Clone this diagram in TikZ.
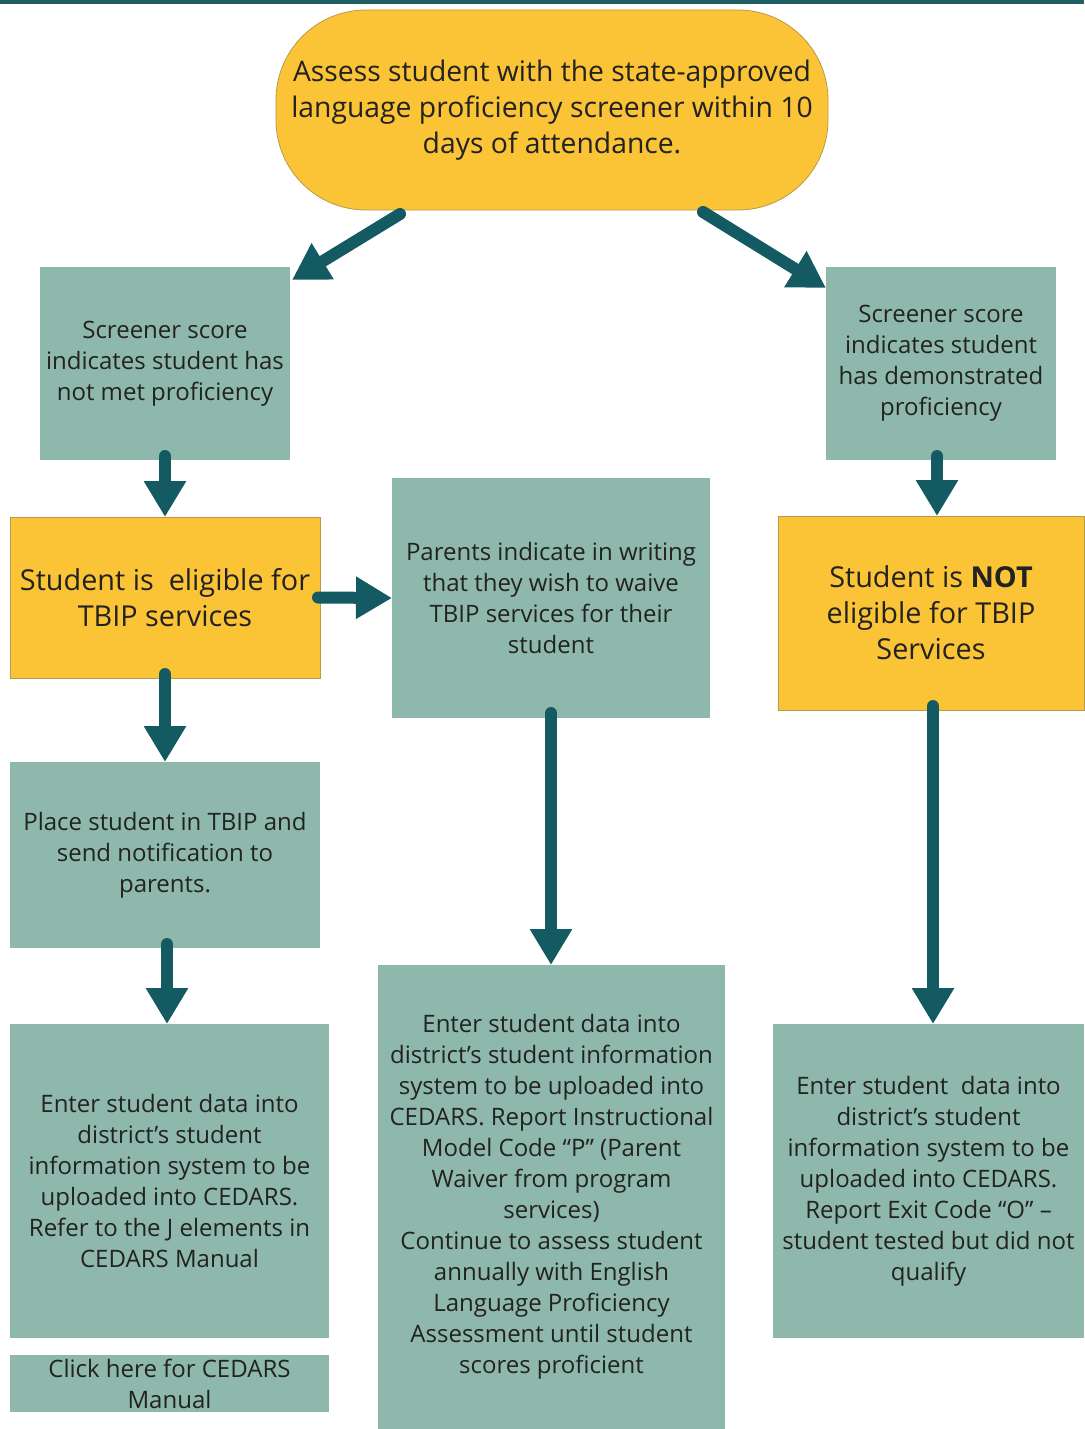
\documentclass[tikz,border=0pt]{standalone}
\usepackage{fontspec}
\setmainfont{Open Sans}
\usetikzlibrary{arrows.meta}
\definecolor{tealbg}{HTML}{8FB8AC}
\definecolor{yellowbg}{HTML}{FBC336}
\definecolor{yellowbd}{HTML}{B99A4A}
\definecolor{arrowc}{HTML}{135A63}
\definecolor{topbar}{HTML}{1F5E62}
\definecolor{txt}{HTML}{222222}
\begin{document}
\begin{tikzpicture}[x=1pt,y=-1pt,
  box/.style={rectangle,inner sep=0pt,outer sep=0pt,align=center,text=txt},
  tealbox/.style={box,fill=tealbg,font=\fontsize{24}{31}\selectfont},
  yellowbox/.style={box,fill=yellowbg,draw=yellowbd,line width=0.8pt,font=\fontsize{28.8}{36}\selectfont},
  startbox/.style={yellowbox,rounded corners=90pt,font=\fontsize{28.3}{36}\selectfont},
  arr/.style={draw=arrowc,line width=12pt,line cap=round,-{Triangle[length=36pt,width=40pt]},fill=arrowc}]
\useasboundingbox (0,0) rectangle (1084,1429);
\fill[topbar] (0,0) rectangle (1084,4);
\node[startbox,minimum width=552pt,minimum height=200pt] (s) at (552,110)
  {Assess student with the state-approved\\language proficiency screener within 10\\days of attendance.};
\node[tealbox,minimum width=250pt,minimum height=193pt] (a) at (165,363.5)
  {Screener score\\indicates student has\\not met proficiency};
\node[tealbox,minimum width=230pt,minimum height=193pt] (b) at (941,363.5)
  {Screener score\\indicates student\\has demonstrated\\proficiency};
\node[yellowbox,minimum width=310pt,minimum height=161pt] (c) at (165,597.5)
  {Student is~ eligible for\\TBIP services};
\node[tealbox,minimum width=318pt,minimum height=240pt] (d) at (551,598)
  {Parents indicate in writing\\that they wish to waive\\TBIP services for their\\student};
\node[yellowbox,minimum width=306pt,minimum height=194pt] (e) at (931,613)
  {Student is \textbf{NOT}\\eligible for TBIP\\Services};
\node[tealbox,minimum width=310pt,minimum height=186pt] (f) at (165,855)
  {Place student in TBIP and\\send notification to\\parents.};
\node[tealbox,minimum width=319pt,minimum height=314pt] (g) at (169.5,1181)
  {Enter student data into\\district’s student\\information system to be\\uploaded into CEDARS.\\Refer to the J elements in\\CEDARS Manual};
\node[tealbox,minimum width=319pt,minimum height=57pt] (h) at (169.5,1383.5)
  {Click here for CEDARS\\Manual};
\node[tealbox,minimum width=347pt,minimum height=464pt] (i) at (551.5,1197)
  {Enter student data into\\district’s student information\\system to be uploaded into\\CEDARS. Report Instructional\\Model Code “P” (Parent\\Waiver from program\\services)\\Continue to assess student\\annually with English\\Language Proficiency\\Assessment until student\\scores proficient};
\node[tealbox,minimum width=311pt,minimum height=314pt] (j) at (928.5,1181)
  {Enter student~ data into\\district’s student\\information system to be\\uploaded into CEDARS.\\Report Exit Code “O” –\\student tested but did not\\qualify};
% connectors
\draw[arr] ([xshift=124pt,yshift=-4pt]s.south west) -- ([xshift=2pt,yshift=-13pt]a.north east);
\draw[arr] ([xshift=427pt,yshift=-2pt]s.south west) -- ([yshift=-21pt]b.north west);
\draw[arr] ([yshift=4pt]a.south) -- (c.north);
\draw[arr] ([xshift=-4pt,yshift=4pt]b.south) -- ([xshift=6pt]e.north);
\draw[arr] ([xshift=-2pt]c.east) -- (d.west);
\draw[arr] ([yshift=4pt]c.south) -- (f.north);
\draw[arr] ([yshift=5pt]d.south) -- (d.south |- i.north);
\draw[arr] ([xshift=2pt,yshift=4pt]e.south) -- ([xshift=4.5pt]j.north);
\draw[arr] ([xshift=2pt,yshift=4pt]f.south) -- ([xshift=-2.5pt]g.north);
\end{tikzpicture}
\end{document}
